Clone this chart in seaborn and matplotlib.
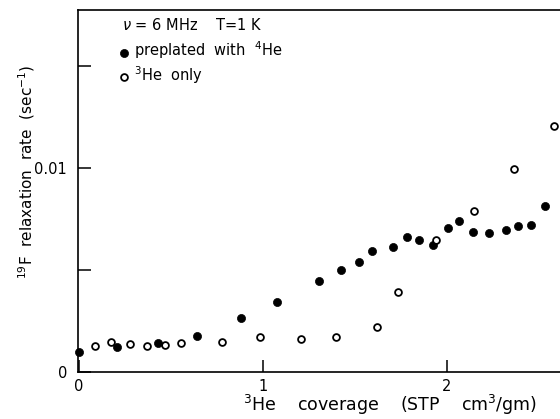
import matplotlib
matplotlib.use("Agg")
import matplotlib.pyplot as plt
import seaborn as sns
import pandas as pd

# preplated with 4He (filled)
pre_x = [0.0, 0.205, 0.428, 0.641, 0.879, 1.074, 1.306, 1.424, 1.522, 1.591,
         1.708, 1.784, 1.848, 1.926, 2.004, 2.067, 2.143, 2.23, 2.319, 2.384,
         2.46, 2.533]
pre_y = [0.00100, 0.00124, 0.00141, 0.00176, 0.00263, 0.00342, 0.00448, 0.00502,
         0.00541, 0.00593, 0.00614, 0.00660, 0.00645, 0.00623, 0.00704, 0.00742,
         0.00685, 0.00680, 0.00696, 0.00717, 0.00720, 0.00814]

# 3He only (open)
he3_x = [0.087, 0.174, 0.277, 0.371, 0.467, 0.553, 0.777, 0.985, 1.205, 1.397,
         1.62, 1.732, 1.94, 2.147, 2.364, 2.58]
he3_y = [0.00129, 0.00146, 0.00137, 0.00129, 0.00132, 0.00141, 0.00149, 0.00173,
         0.00162, 0.00173, 0.00222, 0.00394, 0.00647, 0.00789, 0.00994, 0.01207]

x_ticks = [0, 1, 2]
x_ticklabels = ["0", "1", "2"]
y_ticks = [0, 0.005, 0.01, 0.015]
y_ticklabels = ["0", "", "0.01", ""]

sns.set_theme(style="white")
plt.rcParams['font.family'] = ['DejaVu Sans']
plt.rcParams['mathtext.fontset'] = 'dejavusans'
plt.rcParams['text.color'] = 'black'
plt.rcParams['axes.labelcolor'] = 'black'
plt.rcParams['xtick.color'] = 'black'
plt.rcParams['ytick.color'] = 'black'

df_pre = pd.DataFrame({"x": pre_x, "y": pre_y})
df_he3 = pd.DataFrame({"x": he3_x, "y": he3_y})

fig = plt.figure(figsize=(5.6, 4.19), dpi=100)
ax = fig.add_axes([78/560, 1 - 372/419, (560 - 78)/560, (372 - 10)/419])

sns.scatterplot(data=df_pre, x="x", y="y", ax=ax, marker="o", s=34,
                color="black", edgecolor="black", linewidth=0.5,
                label=r"preplated  with  $^{4}$He", zorder=3, clip_on=False)
sns.scatterplot(data=df_he3, x="x", y="y", ax=ax, marker="o", s=24,
                facecolor="white", edgecolor="black", linewidth=1.3,
                label=r"$^{3}$He  only", zorder=4, clip_on=False)

ax.set_xlim(-0.005, 2.615)
ax.set_ylim(0, 0.01775)

ax.set_xticks(x_ticks)
ax.set_xticklabels(x_ticklabels)
ax.set_yticks(y_ticks)
ax.set_yticklabels(y_ticklabels)
ax.tick_params(direction="in", length=9, width=1.1, colors="black",
               labelsize=10.5, bottom=True, left=True)
ax.tick_params(axis="y", pad=8)
ax.tick_params(axis="x", pad=5)

for side in ["left", "bottom", "top"]:
    ax.spines[side].set_visible(True)
    ax.spines[side].set_color("black")
    ax.spines[side].set_linewidth(1.2)
ax.spines["right"].set_visible(False)

ax.set_xlabel(r"$^{3}$He    coverage    (STP    cm$^{3}$/gm)", fontsize=12.5)
ax.set_ylabel(r"$^{19}$F  relaxation  rate  (sec$^{-1}$)", fontsize=11)
ax.xaxis.set_label_coords(0.647, -0.058)
ax.yaxis.set_label_coords(-0.085, 0.552)

ax.text(0.091, 0.958, r"$\nu$ = 6 MHz    T=1 K", transform=ax.transAxes,
        fontsize=10.5, va="center", ha="left")

leg = ax.legend(loc="upper left", bbox_to_anchor=(0.08, 0.918), frameon=False,
                fontsize=10.5, handletextpad=0.2, handlelength=1.0,
                borderpad=0, borderaxespad=0, labelspacing=0.2)

fig.savefig("out.png", dpi=100)
